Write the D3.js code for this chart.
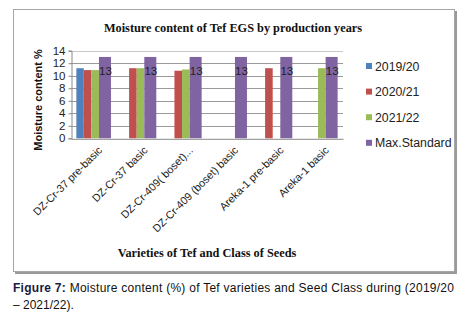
<!DOCTYPE html>
<html>
<head>
<meta charset="utf-8">
<script src="https://cdn.jsdelivr.net/npm/d3@7"></script>
<style>
  body { margin: 0; background: #fff; }
  svg { display: block; }
</style>
</head>
<body>
<div id="chart"></div>
<script>
const width = 471;
const height = 317;

// data
var categories = ["DZ-Cr-37  pre-basic", "DZ-Cr-37  basic", "DZ-Cr-409( boset)...",
                  "DZ-Cr-409 (boset) basic", "Areka-1 pre-basic", "Areka-1 basic"];
var seriesNames = ["2019/20", "2020/21", "2021/22", "Max.Standard"];
var y2019 = [11.2, null, null, null, null, null];
var y2020 = [10.9, 11.2, 10.8, null, 11.2, null];
var y2021 = [10.9, 11.2, 11.0, null, null, 11.2];
var maxStandard = [13, 13, 13, 13, 13, 13];
var yTicks = [0, 2, 4, 6, 8, 10, 12, 14];
var colors = ["#4F81BD", "#C0504D", "#9BBB59", "#8064A2"];

var series = [y2019, y2020, y2021, maxStandard];

var svg = d3.select("#chart").append("svg")
  .attr("width", width).attr("height", height);

// chart frame with a soft shadow at right and bottom
svg.append("rect").attr("x", 15).attr("y", 11).attr("width", 442).attr("height", 263)
  .attr("fill", "#9a9a9a");
svg.append("rect").attr("x", 13.5).attr("y", 9.5).attr("width", 441).attr("height", 262)
  .attr("fill", "#fff").attr("stroke", "#a6a6a6");

var plot = {left: 71, right: 343, top: 50.7, bottom: 138.3};

var x = d3.scaleBand().domain(categories).range([plot.left, plot.right]);
var y = d3.scaleLinear().domain([0, 14]).range([plot.bottom, plot.top]);

// grid
svg.append("g").selectAll("line").data(yTicks.slice(1)).join("line")
  .attr("x1", plot.left).attr("x2", plot.right)
  .attr("y1", d => Math.round(y(d)) + 0.5).attr("y2", d => Math.round(y(d)) + 0.5)
  .attr("stroke", (d) => d == 14 ? "#c8c8c8" : "#9a9a9a");

// bars
var barW = [7.4, 7.6, 7.6, 12];
var groupW = d3.sum(barW);
var offsets = [0];
for (let i = 1; i < barW.length; i++) offsets.push(offsets[i - 1] + barW[i - 1]);

series.forEach((vals, s) => {
  svg.append("g").selectAll("rect")
    .data(vals.map((v, i) => ({v: v, c: categories[i]})).filter(d => d.v != null))
    .join("rect")
    .attr("x", d => x(d.c) + x.bandwidth() / 2 - groupW / 2 + offsets[s])
    .attr("width", barW[s])
    .attr("y", d => y(d.v))
    .attr("height", d => y(0) - y(d.v))
    .attr("fill", colors[s]);
});

// data labels on the standard bars
svg.append("g").selectAll("text").data(maxStandard).join("text")
  .attr("x", (d, i) => x(categories[i]) + x.bandwidth() / 2 - groupW / 2 + offsets[3] + barW[3] / 2 + 0.5)
  .attr("y", y(10.7) + 4)
  .attr("text-anchor", "middle")
  .attr("font-family", "Liberation Sans, Arial, sans-serif")
  .attr("font-size", 11.5)
  .attr("fill", "#222")
  .text(d => d);

// axes
var yAxis = d3.axisLeft(y).tickValues(yTicks).tickSize(3).tickPadding(3);
var gy = svg.append("g").attr("transform", `translate(${plot.left + 0.5},0)`).call(yAxis);
gy.select(".domain").attr("stroke", "#8a8a8a");
gy.selectAll(".tick line").attr("stroke", "#8a8a8a");
gy.selectAll("text").attr("font-family", "Liberation Sans, Arial, sans-serif")
  .attr("font-size", 11.5).attr("fill", "#222");

var xAxis = d3.axisBottom(x).tickSize(0).tickPadding(6);
var gx = svg.append("g").attr("transform", `translate(0,${plot.bottom + 0.5})`).call(xAxis);
gx.select(".domain").attr("stroke", "#8a8a8a");
gx.selectAll("text")
  .attr("font-family", "Liberation Sans, Arial, sans-serif")
  .attr("font-size", 10.8)
  .attr("fill", "#222")
  .attr("text-anchor", "end")
  .attr("dy", 0)
  .attr("transform", "translate(5,8) rotate(-45)");

// titles
svg.append("text").attr("x", 233).attr("y", 32)
  .attr("text-anchor", "middle")
  .attr("font-family", "Liberation Serif, Times New Roman, serif")
  .attr("font-weight", "bold").attr("font-size", 12.3).attr("fill", "#111")
  .text("Moisture content of Tef EGS by production years");

svg.append("text")
  .attr("transform", "translate(42,100) rotate(-90)")
  .attr("text-anchor", "middle")
  .attr("font-family", "Liberation Sans, Arial, sans-serif")
  .attr("font-weight", "bold").attr("font-size", 11).attr("fill", "#111")
  .text("Moisture  content %");

svg.append("text").attr("x", 207).attr("y", 257)
  .attr("text-anchor", "middle")
  .attr("font-family", "Liberation Serif, Times New Roman, serif")
  .attr("font-weight", "bold").attr("font-size", 12.3).attr("fill", "#111")
  .text("Varieties of Tef and Class of Seeds");

// legend
var legend = svg.append("g").selectAll("g").data(seriesNames).join("g")
  .attr("transform", (d, i) => `translate(366,${66 + i * 25.6})`);
legend.append("rect").attr("x", 0).attr("y", -3).attr("width", 6).attr("height", 6)
  .attr("fill", (d, i) => colors[i]);
legend.append("text").attr("x", 9).attr("y", 4.5)
  .attr("font-family", "Liberation Sans, Arial, sans-serif")
  .attr("font-size", 12.3).attr("fill", "#222")
  .text(d => d);

// caption
var cap = svg.append("text").attr("x", 13).attr("y", 292)
  .attr("font-family", "Liberation Sans, Arial, sans-serif")
  .attr("font-size", 12).attr("fill", "#111")
  .attr("textLength", 441).attr("lengthAdjust", "spacing");
cap.append("tspan").attr("font-weight", "bold").attr("fill", "#1a1a40").text("Figure 7:");
cap.append("tspan").text(" Moisture content (%) of Tef varieties and Seed Class during (2019/20");
svg.append("text").attr("x", 13).attr("y", 309)
  .attr("font-family", "Liberation Sans, Arial, sans-serif")
  .attr("font-size", 12).attr("fill", "#111")
  .text("\u2013 2021/22).");
</script>
</body>
</html>
